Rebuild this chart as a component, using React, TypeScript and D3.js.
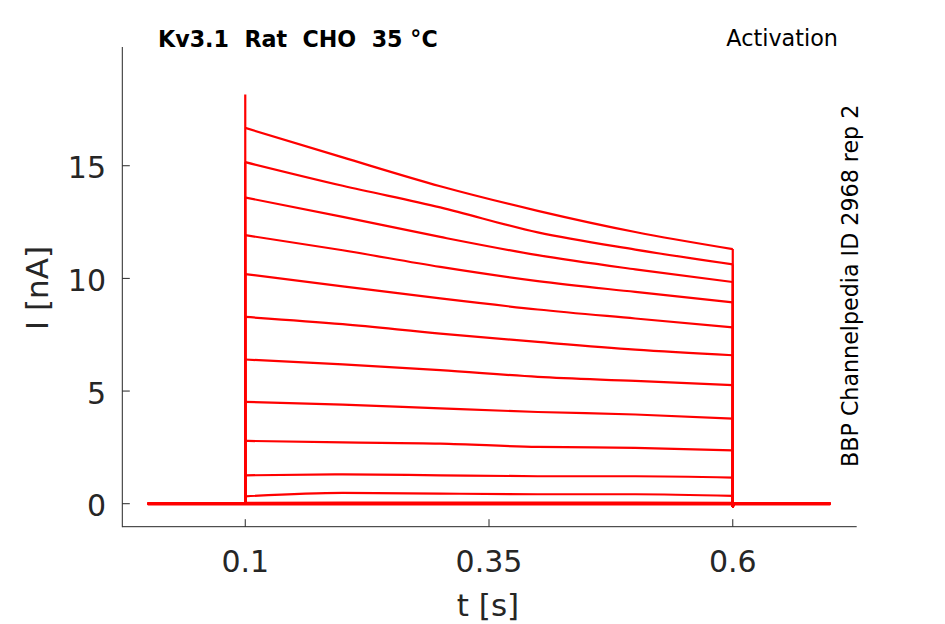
import React from 'react';
import * as d3 from 'd3';

const stepTimes = [0.1, 0.2, 0.3, 0.4, 0.5, 0.6];
const sweeps = [
    [16.68, 15.37, 14.09, 13.0, 12.06, 11.3],
    [15.16, 14.11, 13.15, 12.04, 11.28, 10.62],
    [13.59, 12.73, 11.84, 11.03, 10.4, 9.84],
    [11.92, 11.25, 10.51, 9.88, 9.4, 8.94],
    [10.19, 9.65, 9.11, 8.62, 8.22, 7.83],
    [8.29, 7.97, 7.55, 7.18, 6.84, 6.59],
    [6.4, 6.18, 5.93, 5.63, 5.45, 5.26],
    [4.52, 4.4, 4.23, 4.07, 3.96, 3.78],
    [2.79, 2.72, 2.67, 2.52, 2.48, 2.37],
    [1.26, 1.3, 1.26, 1.22, 1.22, 1.16],
    [0.33, 0.48, 0.45, 0.42, 0.42, 0.35],
    [0.04, 0.05, 0.05, 0.05, 0.05, 0.04],
];
const onsetSpike = 18.16;
const offsetDip = -0.12;
const recordStart = 0;
const recordEnd = 0.7;

const xTicks = [0.1, 0.35, 0.6];
const yTicks = [0, 5, 10, 15];

const title = 'Kv3.1  Rat  CHO  35 °C';
const protocol = 'Activation';
const source = 'BBP Channelpedia ID 2968 rep 2';

const W = 945;
const H = 624;
const plot = { left: 122.3, right: 856.7, top: 47, bottom: 526.7 };
const font = 'DejaVu Sans, sans-serif';
const axisColor = '#262626';

export default function App() {
    const x = d3.scaleLinear().domain([-0.0261, 0.7271]).range([plot.left, plot.right]);
    const y = d3.scaleLinear().domain([-1.02, 20.27]).range([plot.bottom, plot.top]);

    const linear = d3.line<[number, number]>().x(d => x(d[0])).y(d => y(d[1]));
    const smooth = d3.line<[number, number]>().x(d => x(d[0])).y(d => y(d[1])).curve(d3.curveMonotoneX);

    const t0 = stepTimes[0];
    const t1 = stepTimes[stepTimes.length - 1];

    return (
        <svg width={W} height={H} style={{ position: 'absolute', left: 0, top: 0 }} fontFamily={font}>
            <rect width={W} height={H} fill="#fff" />

            {/* holding current baseline */}
            <path
                d={linear([[recordStart, 0], [recordEnd, 0]]) || ''}
                stroke="#ff0000" strokeWidth={3.4} fill="none"
            />

            {sweeps.map((vals, i) => {
                const peak = i === 0 ? onsetSpike : vals[0];
                const before = linear([[recordStart, 0], [t0, 0], [t0, peak]]) || '';
                const plateau = smooth(stepTimes.map((t, k) => [t, vals[k]] as [number, number])) || '';
                const after = linear([[t1, vals[vals.length - 1]], [t1, offsetDip], [t1 + 0.0015, 0], [recordEnd, 0]]) || '';
                return (
                    <g key={i} stroke="#ff0000" strokeWidth={2.2} fill="none" strokeLinejoin="round">
                        <path d={before} />
                        <path d={plateau} />
                        <path d={after} />
                    </g>
                );
            })}

            {/* axes */}
            <g stroke={axisColor} strokeWidth={1} fill="none">
                <line x1={plot.left} x2={plot.left} y1={plot.top} y2={plot.bottom + 0.5} />
                <line x1={plot.left} x2={plot.right} y1={plot.bottom} y2={plot.bottom} />
                {xTicks.map(t => (
                    <line key={t} x1={x(t)} x2={x(t)} y1={plot.bottom} y2={plot.bottom - 7.5} />
                ))}
                {yTicks.map(v => (
                    <line key={v} x1={plot.left} x2={plot.left + 7.5} y1={y(v)} y2={y(v)} />
                ))}
            </g>

            <g fill={axisColor} fontSize={30}>
                {xTicks.map(t => (
                    <text key={t} x={x(t)} y={571.5} textAnchor="middle">{t}</text>
                ))}
                {yTicks.map(v => (
                    <text key={v} x={106} y={y(v) + 12.5} textAnchor="end">{v}</text>
                ))}
            </g>

            <text x={488} y={615.5} textAnchor="middle" fontSize={31} fill={axisColor}>t [s]</text>
            <text
                transform={`translate(48,288) rotate(-90)`}
                textAnchor="middle" fontSize={31} fill={axisColor}
            >I [nA]</text>

            <text x={158} y={46.5} fontSize={22.2} fontWeight="bold" fill="#000" style={{ whiteSpace: 'pre' }}>
                {title}
            </text>
            <text x={838} y={46} textAnchor="end" fontSize={22.3} fill="#000">{protocol}</text>
            <text transform={`translate(857.5,467) rotate(-90)`} fontSize={22.2} fill="#000">{source}</text>
        </svg>
    );
}
